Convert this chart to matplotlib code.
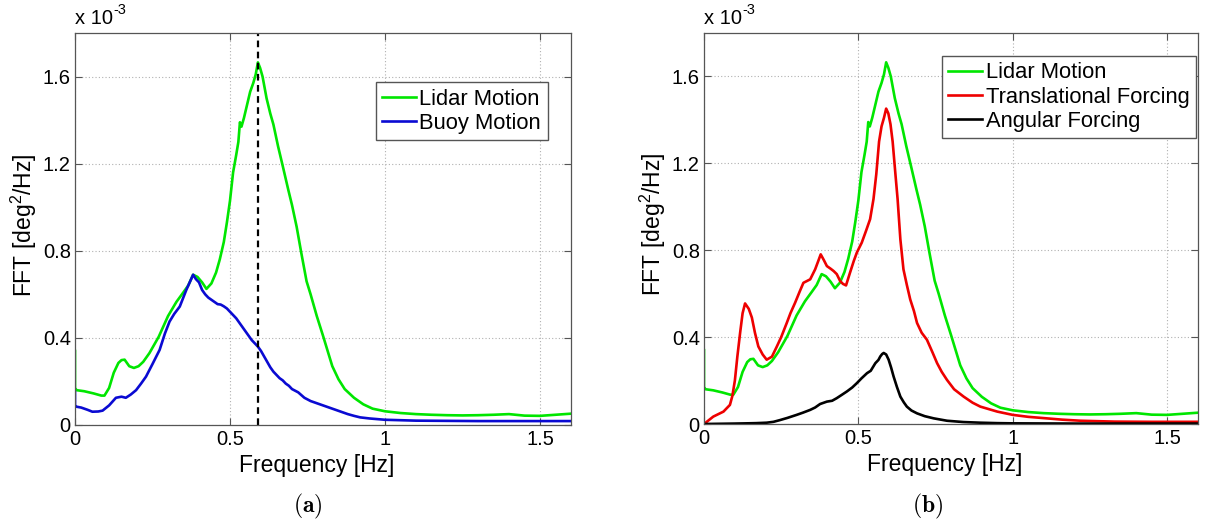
import numpy as np
import matplotlib
matplotlib.use("Agg")
import matplotlib.pyplot as plt

plt.rcParams['font.family'] = ['Liberation Sans', 'DejaVu Sans']
plt.rcParams['mathtext.fontset'] = 'custom'
plt.rcParams['mathtext.rm'] = 'Liberation Sans'
plt.rcParams['mathtext.it'] = 'Liberation Sans:italic'

# ---- spectra (units of 1e-3 deg^2/Hz) ----
lidar_f = [0.0, 0.0, 0.005, 0.03, 0.06, 0.085, 0.095, 0.11, 0.125, 0.14, 0.15, 0.16,
           0.175, 0.19, 0.205, 0.22, 0.24, 0.27, 0.30, 0.327, 0.35, 0.365, 0.381,
           0.395, 0.41, 0.424, 0.44, 0.455, 0.467, 0.48, 0.49, 0.50, 0.51, 0.52,
           0.527, 0.532, 0.537, 0.545, 0.555, 0.565, 0.575, 0.583, 0.59, 0.597,
           0.605, 0.618, 0.63, 0.64, 0.655, 0.67, 0.688, 0.70, 0.715, 0.73, 0.747,
           0.76, 0.78, 0.80, 0.815, 0.83, 0.85, 0.87, 0.90, 0.93, 0.96, 1.0, 1.05,
           1.1, 1.15, 1.2, 1.25, 1.3, 1.35, 1.4, 1.45, 1.5, 1.55, 1.6]
lidar_v = [0.34, 0.17, 0.16, 0.155, 0.145, 0.135, 0.135, 0.17, 0.24, 0.285, 0.298, 0.30,
           0.27, 0.262, 0.27, 0.29, 0.33, 0.405, 0.50, 0.565, 0.61, 0.64, 0.69,
           0.68, 0.655, 0.625, 0.65, 0.70, 0.76, 0.84, 0.93, 1.03, 1.16, 1.24,
           1.30, 1.39, 1.37, 1.41, 1.47, 1.53, 1.57, 1.61, 1.665, 1.64,
           1.60, 1.50, 1.43, 1.38, 1.28, 1.19, 1.08, 1.01, 0.91, 0.79, 0.66,
           0.60, 0.50, 0.41, 0.34, 0.27, 0.21, 0.165, 0.125, 0.095, 0.075, 0.063, 0.055,
           0.05, 0.047, 0.045, 0.044, 0.045, 0.047, 0.05, 0.043, 0.042, 0.047, 0.052]

buoy_f = [0.0, 0.0, 0.005, 0.02, 0.04, 0.056, 0.075, 0.089, 0.11, 0.132, 0.15, 0.164,
          0.18, 0.197, 0.213, 0.229, 0.25, 0.273, 0.29, 0.305, 0.32, 0.338, 0.359,
          0.381, 0.39, 0.40, 0.41, 0.42, 0.43, 0.44, 0.45, 0.46, 0.47, 0.48, 0.49,
          0.50, 0.51, 0.52, 0.53, 0.54, 0.55, 0.56, 0.57, 0.58, 0.59, 0.60, 0.61,
          0.62, 0.63, 0.64, 0.65, 0.66, 0.67, 0.68, 0.69, 0.70, 0.72, 0.74, 0.76,
          0.78, 0.80, 0.82, 0.84, 0.86, 0.88, 0.90, 0.92, 0.95, 1.0, 1.1, 1.2, 1.3,
          1.4, 1.5, 1.6]
buoy_v = [0.15, 0.09, 0.084, 0.08, 0.07, 0.061, 0.062, 0.066, 0.09, 0.125, 0.13, 0.125,
          0.14, 0.16, 0.19, 0.222, 0.28, 0.345, 0.42, 0.475, 0.51, 0.544, 0.62,
          0.69, 0.67, 0.655, 0.62, 0.60, 0.585, 0.575, 0.565, 0.555, 0.553, 0.545, 0.535,
          0.52, 0.505, 0.49, 0.47, 0.45, 0.43, 0.41, 0.39, 0.375, 0.36, 0.34, 0.315,
          0.29, 0.265, 0.245, 0.23, 0.215, 0.205, 0.19, 0.18, 0.165, 0.15, 0.125, 0.11,
          0.10, 0.09, 0.08, 0.07, 0.06, 0.05, 0.042, 0.035, 0.03, 0.024, 0.02, 0.019, 0.018,
          0.018, 0.018, 0.018]

trans_f = [0.0, 0.03, 0.063, 0.084, 0.092, 0.1, 0.108, 0.117, 0.125, 0.133, 0.145,
           0.155, 0.165, 0.176, 0.19, 0.203, 0.22, 0.236, 0.25, 0.268, 0.28, 0.295,
           0.31, 0.322, 0.344, 0.36, 0.37, 0.378, 0.388, 0.398, 0.41, 0.42, 0.43,
           0.441, 0.45, 0.46, 0.473, 0.485, 0.495, 0.511, 0.525, 0.538, 0.549, 0.558,
           0.567, 0.575, 0.583, 0.59, 0.597, 0.604, 0.611, 0.62, 0.627, 0.636, 0.646,
           0.657, 0.668, 0.68, 0.69, 0.705, 0.722, 0.74, 0.755, 0.77, 0.787, 0.81,
           0.841, 0.87, 0.895, 0.95, 1.0, 1.05, 1.11, 1.16, 1.22, 1.33, 1.45, 1.6]
trans_v = [0.0, 0.034, 0.057, 0.088, 0.13, 0.2, 0.31, 0.42, 0.51, 0.555, 0.53,
           0.49, 0.42, 0.357, 0.32, 0.296, 0.31, 0.357, 0.40, 0.465, 0.51, 0.558,
           0.61, 0.65, 0.666, 0.712, 0.75, 0.781, 0.755, 0.727, 0.715, 0.704, 0.69,
           0.658, 0.645, 0.638, 0.697, 0.75, 0.789, 0.835, 0.89, 0.943, 1.036, 1.15,
           1.30, 1.37, 1.41, 1.452, 1.43, 1.38, 1.30, 1.15, 1.036, 0.85, 0.712,
           0.64, 0.573, 0.52, 0.465, 0.42, 0.388, 0.33, 0.28, 0.24, 0.203, 0.16,
           0.126, 0.098, 0.08, 0.057, 0.042, 0.033, 0.026, 0.02, 0.015, 0.011, 0.01, 0.01]

ang_f = [0.0, 0.05, 0.1, 0.138, 0.17, 0.203, 0.225, 0.246, 0.27, 0.3, 0.32, 0.344,
         0.36, 0.376, 0.398, 0.415, 0.43, 0.445, 0.463, 0.48, 0.495, 0.51, 0.528,
         0.54, 0.555, 0.565, 0.571, 0.577, 0.582, 0.59, 0.598, 0.606, 0.614, 0.625,
         0.636, 0.647, 0.657, 0.672, 0.69, 0.715, 0.744, 0.787, 0.84, 0.895, 0.95,
         1.0, 1.2, 1.4, 1.6]
ang_v = [0.0, 0.001, 0.002, 0.003, 0.004, 0.006, 0.01, 0.018, 0.028, 0.042, 0.052, 0.065,
         0.076, 0.092, 0.103, 0.107, 0.119, 0.133, 0.15, 0.168, 0.188, 0.21, 0.234,
         0.245, 0.28, 0.295, 0.311, 0.322, 0.327, 0.32, 0.296, 0.26, 0.219, 0.17,
         0.126, 0.1, 0.08, 0.062, 0.049, 0.036, 0.026, 0.015, 0.009, 0.006, 0.004,
         0.003, 0.002, 0.002, 0.002]

peak_freq = 0.59

x_ticks = [0, 0.5, 1, 1.5]
x_ticklabels = ['0', '0.5', '1', '1.5']
y_ticks = [0, 0.4, 0.8, 1.2, 1.6]
y_ticklabels = ['0', '0.4', '0.8', '1.2', '1.6']

GREEN = '#00e600'
BLUE = '#0a0ad2'
RED = '#ee0000'
BLACK = '#000000'
LW = 1.9
TICK_FS = 14.5
LABEL_FS = 16.5
LEG_FS = 15.8
AXIS_COLOR = '#555555'

W, H = 1205, 522
fig = plt.figure(figsize=(W / 100, H / 100), dpi=100)


def make_axes(x0, x1, y0, y1):
    ax = fig.add_axes([x0 / W, 1 - y1 / H, (x1 - x0) / W, (y1 - y0) / H])
    ax.set_xlim(0, 1.6)
    ax.set_ylim(0, 1.8)
    ax.set_xticks(x_ticks)
    ax.set_xticklabels(x_ticklabels)
    ax.set_yticks(y_ticks)
    ax.set_yticklabels(y_ticklabels)
    ax.tick_params(direction='in', top=True, right=True, length=5, width=0.8,
                   color=AXIS_COLOR, labelsize=TICK_FS)
    ax.tick_params(axis='x', pad=3.5)
    ax.tick_params(axis='y', pad=3)
    for s in ax.spines.values():
        s.set_color(AXIS_COLOR)
        s.set_linewidth(0.9)
    ax.grid(True, linestyle=(0, (1, 2)), color='#b0b0b0', linewidth=0.8)
    ax.set_axisbelow(True)
    ax.set_xlabel('Frequency [Hz]', fontsize=LABEL_FS)
    ax.xaxis.set_label_coords(0.488, -29 / (y1 - y0))
    ax.set_ylabel(r'FFT [deg$^{\mathrm{2}}$/Hz]', fontsize=LABEL_FS, va='center')
    ax.yaxis.set_label_coords(-51 / (x1 - x0), 0.51)
    # exponent marker above the y axis
    base = ax.text(0.0, 1.014, 'x 10', transform=ax.transAxes,
                   fontsize=TICK_FS, ha='left', va='bottom')
    ax.annotate('-3', xy=(1.0, 0.55), xycoords=base, fontsize=TICK_FS * 0.72,
                ha='left', va='bottom')
    return ax


def add_legend(ax, anchor):
    ax.legend(loc='upper right', bbox_to_anchor=anchor, fontsize=LEG_FS,
              frameon=True, fancybox=False, edgecolor=AXIS_COLOR, framealpha=1,
              handlelength=1.55, handletextpad=0.15, borderpad=0.3,
              labelspacing=0.15, borderaxespad=0)


# (a) lidar vs buoy motion
ax1 = make_axes(75, 571, 33, 425)
ax1.plot(lidar_f, lidar_v, color=GREEN, lw=LW, label='Lidar Motion')
ax1.plot(buoy_f, buoy_v, color=BLUE, lw=LW, label='Buoy Motion')
ax1.axvline(peak_freq, color='black', lw=1.6, ls=(0, (3, 2)))
add_legend(ax1, (0.953, 0.875))
ax1.text(0.469, -0.207, r'$\mathbf{(a)}$', transform=ax1.transAxes, ha='center',
         va='center', fontsize=17, math_fontfamily='cm')

# (b) lidar motion vs forcing components
ax2 = make_axes(704, 1198, 33, 424)
ax2.plot(lidar_f, lidar_v, color=GREEN, lw=LW, label='Lidar Motion')
ax2.plot(trans_f, trans_v, color=RED, lw=LW, label='Translational Forcing')
ax2.plot(ang_f, ang_v, color=BLACK, lw=LW, label='Angular Forcing')
add_legend(ax2, (0.996, 0.942))
ax2.text(0.452, -0.21, r'$\mathbf{(b)}$', transform=ax2.transAxes, ha='center',
         va='center', fontsize=17, math_fontfamily='cm')

fig.savefig('out.png', dpi=100)
